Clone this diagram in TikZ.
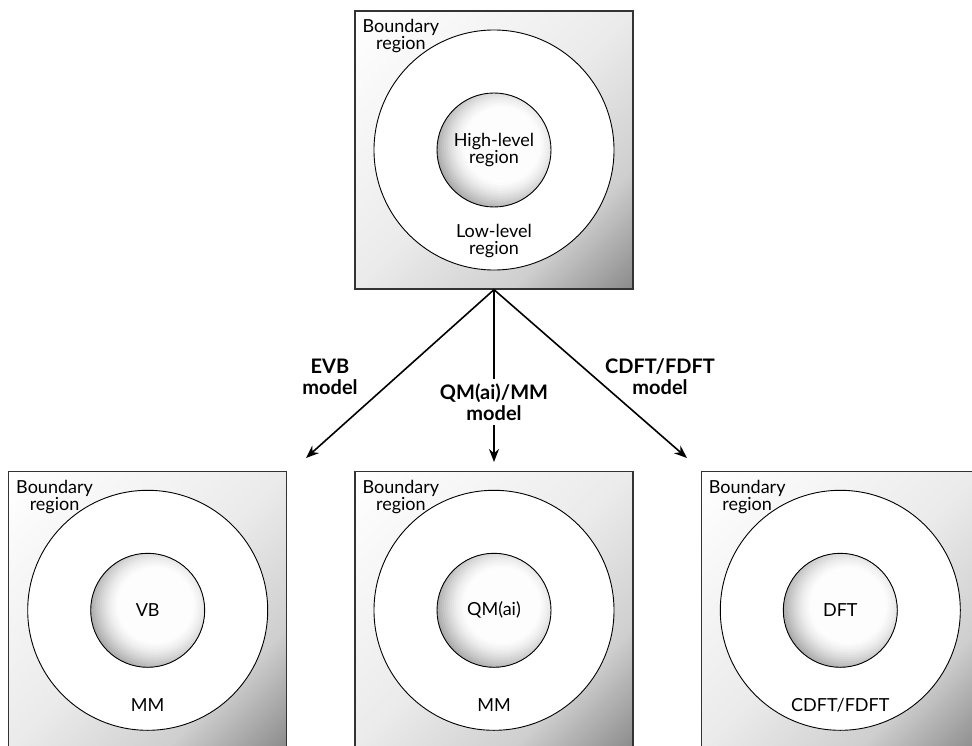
\documentclass[tikz,border=0pt]{standalone}
\usepackage{fontspec}
\setmainfont{Lato}
\usetikzlibrary{arrows.meta, positioning}
\pgfdeclareverticalshading{cellshade}{100bp}{color(0bp)=(black!48); color(15bp)=(black!45); color(30bp)=(black!19); color(50bp)=(black!8); color(85bp)=(white); color(100bp)=(white)}
\tikzset{
  cell/.style={rectangle, draw=black!80, line width=1.3pt, minimum size=278pt, inner sep=0pt,
    shade, shading=cellshade, shading angle=45},
  ring/.style={circle, draw, line width=0.9pt, fill=white, minimum size=240pt, inner sep=0pt},
  % core: light spot a bit right of and above the centre, greyer towards the rim
  core/.style={circle, draw, line width=0.9pt, minimum size=114pt, inner sep=0pt, fill=white,
    path picture={
      \foreach \r in {70,68,...,38} {
        \pgfmathsetmacro\tone{40*(\r-36)/34*sqrt((\r-36)/34)}
        \fill[black!\tone] ([xshift=8pt, yshift=5pt]path picture bounding box.center) circle (\r pt);
      }}},
  txt/.style={font=\fontsize{18}{17}\selectfont, align=center, inner sep=0pt},
  lbl/.style={font=\fontsize{20}{21}\selectfont\bfseries, align=center}
}

\begin{document}
\begin{tikzpicture}[x=1pt, y=-1pt, >={Stealth[length=13pt,width=10pt]}, node distance=181pt and 67pt]
    \useasboundingbox (0,0) rectangle (972,746);

    % top box
    \node[cell] (top) at (494,150) {};
    \node[ring] (top-ring) at (top.center) {};
    \node[core] (top-core) at (top.center) {};
    \node[txt, anchor=north west, xshift=8pt, yshift=-9pt] (top-bd) at (top.north west) {Boundary\\region};
    \node[txt] (top-hi) at (top.center) {High-level\\region};
    \node[txt, below=74pt of top.center] (top-lo) {Low-level\\region};

    % three boxes below
    \node[cell, below=of top] (qm) {};
    \node[cell, left=of qm] (evb) {};
    \node[cell, right=of qm] (dft) {};

    \node[ring] (evb-ring) at (evb.center) {};
    \node[core] (evb-core) at (evb.center) {};
    \node[txt, anchor=north west, xshift=8pt, yshift=-9pt] (evb-bd) at (evb.north west) {Boundary\\region};
    \node[txt] (evb-hi) at (evb.center) {VB};
    \node[txt, below=88pt of evb.center] (evb-lo) {MM};

    \node[ring] (qm-ring) at (qm.center) {};
    \node[core] (qm-core) at (qm.center) {};
    \node[txt, anchor=north west, xshift=8pt, yshift=-9pt] (qm-bd) at (qm.north west) {Boundary\\region};
    \node[txt] (qm-hi) at (qm.center) {QM(ai)};
    \node[txt, below=88pt of qm.center] (qm-lo) {MM};

    \node[ring] (dft-ring) at (dft.center) {};
    \node[core] (dft-core) at (dft.center) {};
    \node[txt, anchor=north west, xshift=8pt, yshift=-9pt] (dft-bd) at (dft.north west) {Boundary\\region};
    \node[txt] (dft-hi) at (dft.center) {DFT};
    \node[txt, below=88pt of dft.center] (dft-lo) {CDFT/FDFT};

    % arrows and model labels
    \coordinate (evb-end) at (306,458);
    \coordinate (qm-end) at (494,462);
    \coordinate (dft-end) at (687,458);

    \node[lbl] (evb-model) at (330,377) {EVB\\model};
    \node[lbl, inner sep=4pt] (qm-model) at (494,402) {QM(ai)/MM\\model};
    \node[lbl] (dft-model) at (660,377) {CDFT/FDFT\\model};

    \draw[->, line width=1.6pt] (top.south) -- (evb-end);
    \draw[line width=1.6pt] (top.south) -- (qm-model.north);
    \draw[->, line width=1.6pt] (qm-model.south) -- (qm-end);
    \draw[->, line width=1.6pt] (top.south) -- (dft-end);
\end{tikzpicture}
\end{document}
